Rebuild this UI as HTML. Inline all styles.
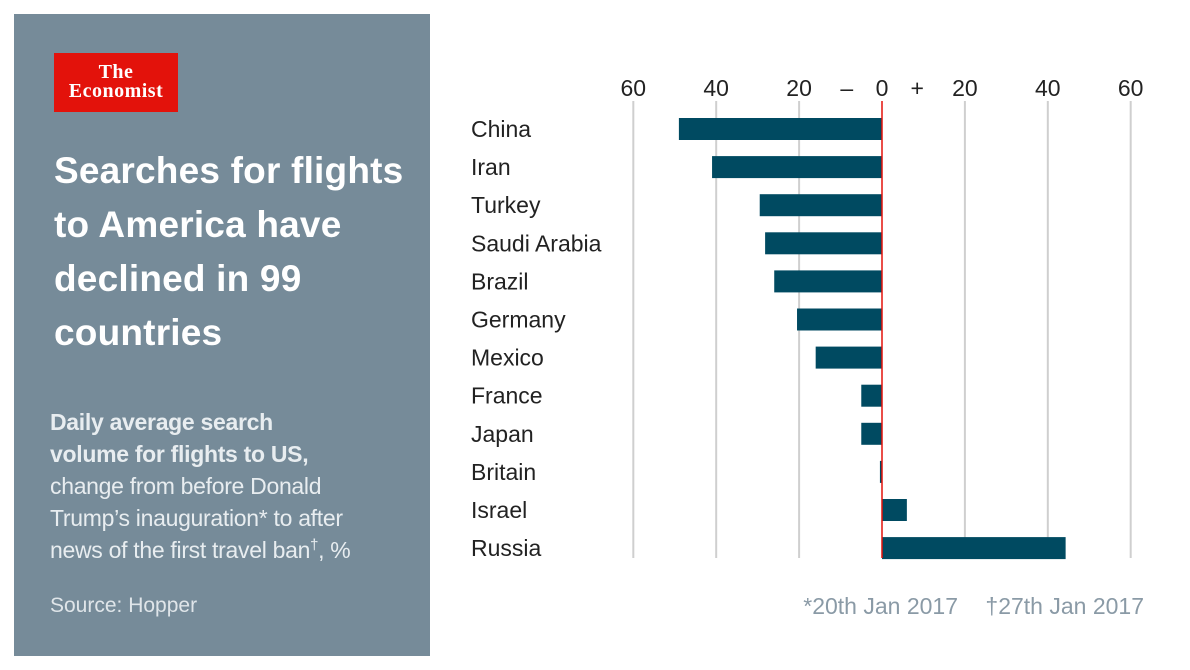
<!DOCTYPE html>
<html><head><meta charset="utf-8"><style>
body{margin:0;width:1190px;height:670px;background:#fff;font-family:"Liberation Sans",sans-serif;position:relative;overflow:hidden}
.panel{position:absolute;left:14px;top:14px;width:416px;height:642px;background:#768b99}
.logo{position:absolute;left:40px;top:39px;width:124px;height:59px;background:#e3120b;color:#fff;font-family:"Liberation Serif",serif;text-align:center;font-size:20px;line-height:19px;padding-top:10px;box-sizing:border-box;font-weight:bold;letter-spacing:0.5px}
.title{position:absolute;left:40px;top:130px;color:#fff;font-weight:bold;font-size:37px;line-height:54px;letter-spacing:0.2px}
.sub{position:absolute;left:36px;top:392px;color:#e8edf0;font-size:23px;line-height:32px;letter-spacing:-0.3px}
.sub sup{font-size:15px;line-height:0}
.src{position:absolute;left:36px;top:580px;color:#dfe5e9;font-size:21px}
svg text{font-family:"Liberation Sans",sans-serif}
</style></head><body>
<div class="panel">
<div class="logo">The<br>Economist</div>
<div class="title">Searches for flights<br>to America have<br>declined in 99<br>countries</div>
<div class="sub"><b>Daily average search<br>volume for flights to US,</b><br>change from before Donald<br>Trump’s inauguration* to after<br>news of the first travel ban<sup>†</sup>, %</div>
<div class="src">Source: Hopper</div>
</div>
<svg id="chart" width="1190" height="670" style="position:absolute;left:0;top:0"></svg>
<script>
const categories=["China","Iran","Turkey","Saudi Arabia","Brazil","Germany","Mexico","France","Japan","Britain","Israel","Russia"];
const values=[-49,-41,-29.5,-28.2,-26,-20.5,-16,-5,-5,-0.5,6,44.3];
const ticks=[-60,-40,-20,0,20,40,60];
const tickLabels=["60","40","20","0","20","40","60"];
const ns="http://www.w3.org/2000/svg",svg=document.getElementById('chart');
const x=v=>882+v*4.145, y=i=>129+i*38.1;
function mk(t,a,txt){const e=document.createElementNS(ns,t);for(const k in a)e.setAttribute(k,a[k]);if(txt!==undefined)e.textContent=txt;svg.appendChild(e);return e;}
ticks.forEach((t,i)=>{
 if(t!==0){const g=mk('line',{x1:x(t),x2:x(t),y1:101,y2:558,stroke:'#cfcfcf','stroke-width':2});
 
 }
 const l=mk('text',{x:x(t),y:96,'text-anchor':'middle','font-size':23,fill:'#222'},tickLabels[i]);
 
 
});
const m=mk('text',{x:x(-8.5),y:96,'text-anchor':'middle','font-size':23,fill:'#222'},'–');


const p=mk('text',{x:x(8.5),y:96,'text-anchor':'middle','font-size':23,fill:'#222'},'+');


categories.forEach((c,i)=>{
 const l=mk('text',{x:471,y:y(i)+8,'font-size':23,fill:'#222'},c);
 
 
 const v=values[i];
 const b=mk('rect',{x:Math.min(x(0),x(v)),y:y(i)-11,width:Math.abs(x(v)-x(0)),height:22,fill:'#004a61'});
 
 
});
const z=mk('line',{x1:x(0),x2:x(0),y1:101,y2:558,stroke:'#e3120b','stroke-width':1.5});


const f1=mk('text',{x:958,y:614,'text-anchor':'end','font-size':23,fill:'#8a9aa6'},'*20th Jan 2017');


const f2=mk('text',{x:1144,y:614,'text-anchor':'end','font-size':23,fill:'#8a9aa6'},'†27th Jan 2017');


</script>
</body></html>
